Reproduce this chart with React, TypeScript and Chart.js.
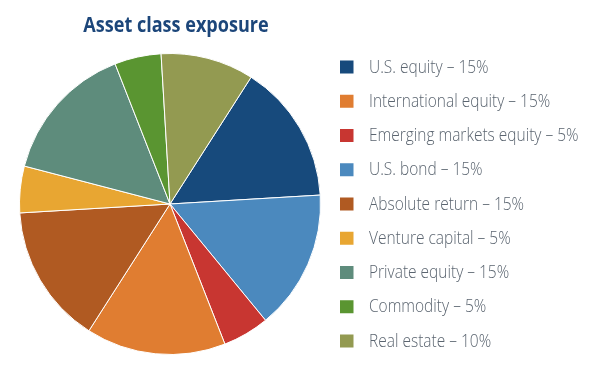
import React, { useEffect, useRef } from "react";
import { Chart, registerables } from "chart.js";

Chart.register(...registerables);

const chartTitle = "Asset class exposure";
const categories = [
  "U.S. equity",
  "International equity",
  "Emerging markets equity",
  "U.S. bond",
  "Absolute return",
  "Venture capital",
  "Private equity",
  "Commodity",
  "Real estate",
];
const values = [15, 15, 5, 15, 15, 5, 15, 5, 10];
const colors = [
  "#174a7c",
  "#e07d31",
  "#c83631",
  "#4b89be",
  "#b05a22",
  "#e8a632",
  "#5e8c7c",
  "#5a9531",
  "#939a51",
];
// clockwise order of the slices in the pie, starting at the upper right
const sliceOrder = [
  "U.S. equity",
  "U.S. bond",
  "Emerging markets equity",
  "International equity",
  "Absolute return",
  "Venture capital",
  "Private equity",
  "Commodity",
  "Real estate",
];

const TITLE_FONT = "bold 21px 'Open Sans', sans-serif";
const LEGEND_FONT = "300 18px 'Open Sans', sans-serif";
const CONDENSE = 0.86;

const titlePlugin = {
  id: "pieTitle",
  afterDraw(chart: any) {
    const ctx = chart.ctx;
    ctx.save();
    ctx.font = TITLE_FONT;
    ctx.fillStyle = "#1c467a";
    ctx.textAlign = "center";
    ctx.textBaseline = "alphabetic";
    ctx.translate(176, 32);
    ctx.scale(CONDENSE, 1);
    ctx.fillText(chartTitle, 0, 0);
    ctx.restore();
  },
};

const legendPlugin = {
  id: "sideLegend",
  afterDraw(chart: any) {
    const ctx = chart.ctx;
    categories.forEach((c, i) => {
      const y = 67 + i * 34.25;
      ctx.save();
      ctx.fillStyle = colors[i];
      ctx.fillRect(340, y - 6.5, 13.5, 13);
      ctx.font = LEGEND_FONT;
      ctx.textBaseline = "middle";
      ctx.textAlign = "left";
      ctx.fillStyle = "#5b6570";
      ctx.translate(369, y + 0.5);
      ctx.scale(CONDENSE, 1);
      ctx.fillText(`${c} \u2013 ${values[i]}%`, 0, 0);
      ctx.restore();
    });
  },
};

export default function App() {
  const ref = useRef<HTMLCanvasElement | null>(null);

  useEffect(() => {
    if (!ref.current) return;
    const idx = sliceOrder.map((s) => categories.indexOf(s));
    const chart = new Chart(ref.current, {
      type: "pie",
      data: {
        labels: idx.map((i) => categories[i]),
        datasets: [
          {
            data: idx.map((i) => values[i]),
            backgroundColor: idx.map((i) => colors[i]),
            borderColor: "#ffffff",
            borderWidth: 1,
          },
        ],
      },
      options: {
        responsive: false,
        animation: false,
        rotation: 32.6,
        layout: { padding: { left: 18, top: 53, right: 286, bottom: 10 } },
        plugins: {
          legend: { display: false },
          tooltip: { enabled: false },
          title: { display: false },
        },
      },
      plugins: [titlePlugin, legendPlugin],
    });
    return () => chart.destroy();
  }, []);

  return (
    <div style={{ position: "absolute", left: 0, top: 0, width: 608, height: 365, background: "#ffffff" }}>
      <canvas ref={ref} width={608} height={365} />
    </div>
  );
}
